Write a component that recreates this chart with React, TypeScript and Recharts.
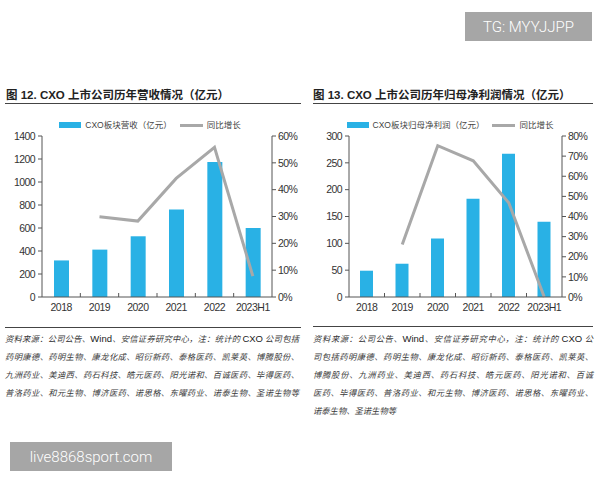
import React from "react";
import { Bar, ComposedChart, Legend, Line, XAxis, YAxis } from "recharts";

const years = ["2018", "2019", "2020", "2021", "2022", "2023H1"];

// 图12：营收（亿元）与同比
const revenue = [318, 412, 528, 760, 1175, 600];
const revenueGrowth = [null, 0.299, 0.283, 0.442, 0.558, 0.078];
const revenueTicks = [0, 200, 400, 600, 800, 1000, 1200, 1400];
const revenueGrowthTicks = [0, 0.1, 0.2, 0.3, 0.4, 0.5, 0.6];

// 图13：归母净利润（亿元）与同比
const profit = [49, 62, 109, 183, 267, 140];
const profitGrowth = [null, 0.261, 0.752, 0.677, 0.468, 0.0];
const profitTicks = [0, 50, 100, 150, 200, 250, 300];
const profitGrowthTicks = [0, 0.1, 0.2, 0.3, 0.4, 0.5, 0.6, 0.7, 0.8];

const leftNotes = [
  "资料来源：公司公告、Wind、安信证券研究中心，注：统计的 CXO 公司包括",
  "药明康德、药明生物、康龙化成、昭衍新药、泰格医药、凯莱英、博腾股份、",
  "九洲药业、美迪西、药石科技、皓元医药、阳光诺和、百诚医药、毕得医药、",
  "普洛药业、和元生物、博济医药、诺思格、东曜药业、诺泰生物、圣诺生物等",
];
const rightNotes = [
  "资料来源：公司公告、Wind、安信证券研究中心，注：统计的 CXO 公",
  "司包括药明康德、药明生物、康龙化成、昭衍新药、泰格医药、凯莱英、",
  "博腾股份、九洲药业、美迪西、药石科技、皓元医药、阳光诺和、百诚",
  "医药、毕得医药、普洛药业、和元生物、博济医药、诺思格、东曜药业、",
  "诺泰生物、圣诺生物等",
];

const BAR = "#29B1E5";
const LINE = "#A8A8A8";
const AXIS = "#555555";
const TEXT = "#333333";
const AXIS_FONT = "'Liberation Sans', Arial, sans-serif";
const CJK_FONT = "'Liberation Sans', 'Noto Sans CJK SC', sans-serif";

function YearTick(props: any) {
  const { x, y, payload, index } = props;
  const half = payload && payload.offset ? payload.offset : 0;
  return (
    <g>
      {index > 0 ? <line x1={x - half} x2={x - half} y1={y} y2={y - 4} stroke={AXIS} strokeWidth={1} /> : null}
      <text x={x} y={y + 14} textAnchor="middle" fill={TEXT} fontSize={10.5} letterSpacing={-0.5} fontFamily={AXIS_FONT}>
        {payload.value}
      </text>
    </g>
  );
}

function ChartLegend(props: { barName: string }) {
  return (
    <div style={{ display: "flex", alignItems: "center", justifyContent: "center", fontFamily: CJK_FONT, fontSize: 8.5, color: "#444", lineHeight: "14px" }}>
      <span style={{ display: "inline-block", width: 22, height: 6, background: BAR, marginRight: 4 }} />
      <span>{props.barName}</span>
      <span style={{ display: "inline-block", width: 23, height: 3, background: LINE, margin: "0 4px 0 8px" }} />
      <span>同比增长</span>
    </div>
  );
}

function GrowthChart(props: {
  values: number[];
  growth: (number | null)[];
  ticks: number[];
  growthTicks: number[];
  barName: string;
  leftWidth: number;
  rightWidth: number;
  barSize: number;
}) {
  const data = years.map((y, i) => ({ year: y, value: props.values[i], growth: props.growth[i] }));
  const yMax = props.ticks[props.ticks.length - 1];
  const gMax = props.growthTicks[props.growthTicks.length - 1];
  const tickFont = { fill: TEXT, fontSize: 10.5, fontFamily: AXIS_FONT, letterSpacing: -0.6 };
  return (
    <ComposedChart width={300} height={215} data={data} margin={{ top: 26, right: 0, bottom: 8, left: 0 }}>
      <XAxis
        dataKey="year"
        interval={0}
        tickLine={false}
        tickSize={0}
        tickMargin={0}
        height={20}
        axisLine={{ stroke: AXIS }}
        tick={<YearTick />}
      />
      <YAxis
        yAxisId="left"
        width={props.leftWidth}
        domain={[0, yMax]}
        ticks={props.ticks}
        interval={0}
        tickSize={4}
        tickMargin={3}
        axisLine={{ stroke: AXIS }}
        tickLine={{ stroke: AXIS }}
        tick={tickFont}
      />
      <YAxis
        yAxisId="right"
        orientation="right"
        width={props.rightWidth}
        domain={[0, gMax]}
        ticks={props.growthTicks}
        interval={0}
        tickSize={4}
        tickMargin={2}
        axisLine={{ stroke: AXIS }}
        tickLine={{ stroke: AXIS }}
        tick={tickFont}
        tickFormatter={(v: number) => `${Math.round(v * 100)}%`}
      />
      <Legend
        verticalAlign="middle"
        layout="horizontal"
        wrapperStyle={{ top: 8, left: 0, width: 300 }}
        content={() => <ChartLegend barName={props.barName} />}
      />
      <Bar yAxisId="left" dataKey="value" fill={BAR} barSize={props.barSize} isAnimationActive={false} />
      <Line
        yAxisId="right"
        dataKey="growth"
        type="linear"
        stroke={LINE}
        strokeWidth={3}
        dot={false}
        activeDot={false}
        isAnimationActive={false}
      />
    </ComposedChart>
  );
}

function NoteLine(props: { text: string; last: boolean }) {
  // Wind / CXO 用无衬线字体显示
  const parts = props.text.split(/(Wind|CXO)/);
  return (
    <div
      style={{
        height: 18,
        lineHeight: "18px",
        textAlign: props.last ? "left" : "justify",
        textAlignLast: props.last ? "left" : "justify",
      }}
    >
      {parts.map((p, i) =>
        p === "Wind" || p === "CXO" ? (
          <span key={i} style={{ fontFamily: "'Liberation Sans', Arial, sans-serif", fontStyle: "normal", fontSize: 9.5, color: "#222" }}>
            {p}
          </span>
        ) : (
          <span key={i}>{p}</span>
        )
      )}
    </div>
  );
}

function Notes(props: { lines: string[]; left: number; width: number }) {
  return (
    <div
      style={{
        position: "absolute",
        left: props.left,
        top: 329,
        width: props.width,
        fontFamily: "'Noto Sans CJK SC', sans-serif",
        fontStyle: "italic",
        fontSize: 8.3,
        color: "#3a3a3a",
      }}
    >
      {props.lines.map((l, i) => (
        <NoteLine key={i} text={l} last={i === props.lines.length - 1 && props.lines.length === 5} />
      ))}
    </div>
  );
}

const titleStyle: React.CSSProperties = {
  position: "absolute",
  top: 88,
  fontFamily: CJK_FONT,
  fontWeight: 700,
  fontSize: 11.5,
  lineHeight: "14px",
  color: "#222",
  whiteSpace: "nowrap",
};

const ruleStyle = (left: number, top: number, width: number, w: number): React.CSSProperties => ({
  position: "absolute",
  left,
  top,
  width,
  height: 0,
  borderTop: `${w}px solid #444`,
});

const badgeStyle: React.CSSProperties = {
  position: "absolute",
  background: "#A6A6A6",
  color: "#fff",
  fontFamily: "Roboto, 'Liberation Sans', sans-serif",
  fontWeight: 300,
  fontSize: 15,
  display: "flex",
  alignItems: "center",
  justifyContent: "center",
};

export default function App() {
  return (
    <div style={{ position: "absolute", left: 0, top: 0, width: 600, height: 480, background: "#fff", overflow: "hidden" }}>
      <div style={{ ...badgeStyle, left: 465, top: 12, width: 127, height: 29 }}>TG: MYYJJPP</div>

      <div style={{ ...titleStyle, left: 6 }}>图 12. CXO 上市公司历年营收情况（亿元）</div>
      <div style={ruleStyle(5, 103, 296, 1.5)} />
      <div style={{ ...titleStyle, left: 313 }}>图 13. CXO 上市公司历年归母净利润情况（亿元）</div>
      <div style={ruleStyle(313, 103, 280, 1.5)} />

      <div style={{ position: "absolute", left: 0, top: 110 }}>
        <GrowthChart
          values={revenue}
          growth={revenueGrowth}
          ticks={revenueTicks}
          growthTicks={revenueGrowthTicks}
          barName="CXO板块营收（亿元）"
          leftWidth={42}
          rightWidth={28}
          barSize={15}
        />
      </div>
      <div style={{ position: "absolute", left: 300, top: 110 }}>
        <GrowthChart
          values={profit}
          growth={profitGrowth}
          ticks={profitTicks}
          growthTicks={profitGrowthTicks}
          barName="CXO板块归母净利润（亿元）"
          leftWidth={49}
          rightWidth={38}
          barSize={13}
        />
      </div>

      <div style={ruleStyle(5, 327, 296, 1.5)} />
      <div style={ruleStyle(313, 326, 280, 1.5)} />

      <Notes lines={leftNotes} left={5} width={294} />
      <Notes lines={rightNotes} left={313} width={280} />

      <div style={{ ...badgeStyle, left: 10, top: 442, width: 162, height: 29 }}>live8868sport.com</div>
    </div>
  );
}
